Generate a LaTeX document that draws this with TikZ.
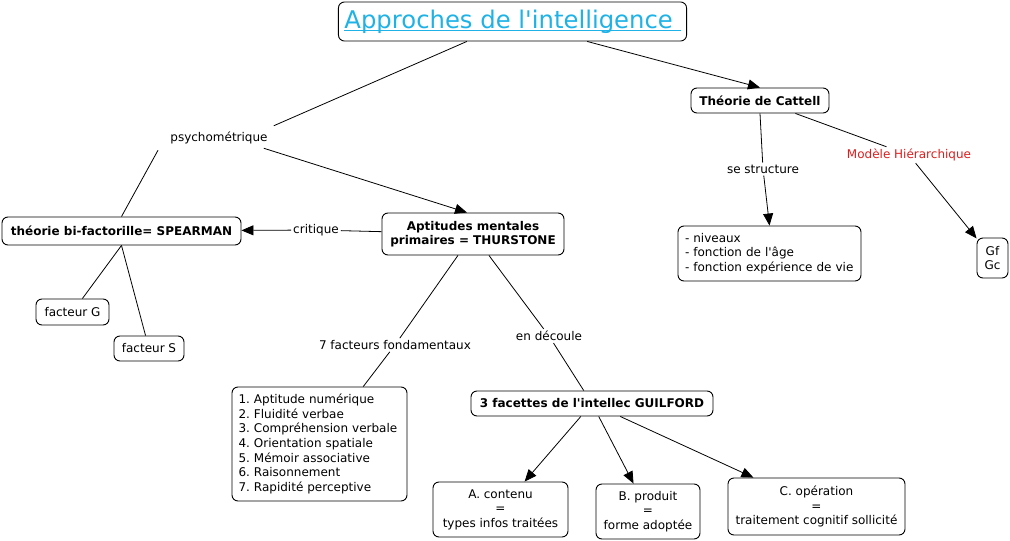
\documentclass[tikz,border=0pt]{standalone}
\usepackage{fontspec}
\setmainfont{DejaVu Sans}[Ligatures=TeXOff]
\usetikzlibrary{arrows.meta}
\frenchspacing
\definecolor{titlecol}{RGB}{30,178,230}
\definecolor{redlab}{RGB}{220,30,30}
\newcommand\myuline[1]{\setbox0\hbox{#1}\rlap{\rule[-3pt]{\wd0}{1.1pt}}\box0}
\tikzset{
  box/.style={draw=black, line width=0.9pt, rounded corners=6pt, fill=white, inner xsep=6pt, inner ysep=4pt, font=\fontsize{12}{14.6}\selectfont\frenchspacing},
  bbox/.style={box, font=\fontsize{12}{14.6}\selectfont\bfseries\frenchspacing},
  listbox/.style={box, align=left, font=\fontsize{12}{14.6}\selectfont\frenchspacing},
  lab/.style={fill=white, inner sep=2pt, font=\fontsize{12}{14.6}\selectfont},
  conn/.style={line width=0.8pt, draw=black},
  arr/.style={conn, -{Triangle[length=12pt,width=10pt]}},
}
\begin{document}
\begin{tikzpicture}[x=1pt,y=-1pt]
\useasboundingbox[fill=white] (0,0) rectangle (1010,541);
% nodes
\node[box, minimum width=345pt, minimum height=39pt, inner ysep=2pt] (title) at (512.5,21.5)
  {\fontsize{24.3}{28}\selectfont\color{titlecol}\myuline{Approches de l'intelligence~}};
\node[bbox, minimum width=138pt, minimum height=25pt] (cat) at (760,100.5) {Théorie de Cattell};
\node[lab] (psy) at (219,138) {psychométrique};
\node[bbox, minimum width=239pt, minimum height=28pt] (spe) at (121.5,231) {théorie bi-factorille= SPEARMAN};
\node[lab] (cri) at (316,230) {critique};
\node[bbox, minimum width=182pt, minimum height=42pt, align=center] (thu) at (473,234) {Aptitudes mentales\\primaires = THURSTONE};
\node[box, minimum width=73pt, minimum height=26pt] (fg) at (72.5,312) {facteur G};
\node[box, minimum width=70pt, minimum height=25pt] (fs) at (149,348.5) {facteur S};
\node[lab] (sept) at (395,345) {7 facteurs fondamentaux};
\node[lab] (dec) at (549,336) {en découle};
\node[listbox, inner xsep=6.5pt, text width=162pt, minimum height=114pt] (list) at (319.5,444)
  {1. Aptitude numérique\\2. Fluidité verbae\\3. Compréhension verbale\\4. Orientation spatiale\\5. Mémoir associative\\6. Raisonnement\\7. Rapidité perceptive};
\node[bbox, minimum width=242pt, minimum height=25pt] (gui) at (592,403.5) {3 facettes de l'intellec GUILFORD};
\node[box, minimum width=135pt, minimum height=55pt, align=center] (ca) at (500.5,509.5) {A. contenu\\=\\types infos traitées};
\node[box, minimum width=104pt, minimum height=55pt, align=center] (cb) at (648,511.5) {B. produit\\=\\forme adoptée};
\node[box, minimum width=177pt, minimum height=57pt, align=center] (cc) at (816.5,506.5) {C. opération\\=\\traitement cognitif sollicité};
\node[lab] (str) at (763,169) {se structure};
\node[lab, text=redlab] (mod) at (909,155) {Modèle Hiérarchique};
\node[listbox, inner xsep=7pt, text width=169pt, minimum height=55pt] (niv) at (769.5,253.5) {- niveaux\\- fonction de l'âge\\- fonction expérience de vie};
\node[box, minimum width=31pt, minimum height=40pt, inner xsep=3pt, align=center] (gf) at (992.5,258) {Gf\\Gc};
% connectors
\draw[conn] (title) -- ([shift={(4,-4)}]psy.north east);
\draw[conn] ([shift={(-61,4)}]psy.south) -- (spe.north);
\draw[arr] ([shift={(-6,2)}]psy.south east) -- ([xshift=-6pt]thu.north);
\draw[arr] (title) -- (cat.north);
\draw[conn] (cat.south) -- (str);
\draw[arr] (str) -- (niv.north);
\draw[conn] (cat) -- (mod);
\draw[arr] (mod) -- (gf);
\draw[conn] (thu) -- (cri);
\draw[arr] (cri) -- (spe);
\draw[conn] (spe.south) -- (fg);
\draw[conn] (spe.south) -- (fs);
\draw[conn] (thu) -- (sept);
\draw[conn] (sept) -- (list);
\draw[conn] (thu) -- (dec);
\draw[conn] (dec) -- (gui);
\draw[arr] (gui) -- (ca);
\draw[arr] (gui) -- (cb);
\draw[arr] (gui) -- (cc);
\end{tikzpicture}
\end{document}
